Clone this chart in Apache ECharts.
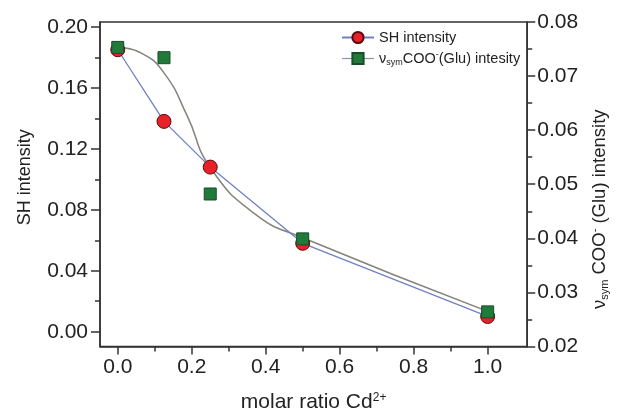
<!DOCTYPE html>
<html>
<head>
<meta charset="utf-8">
<script src="https://cdn.jsdelivr.net/npm/echarts@6/dist/echarts.min.js"></script>
<style>
html,body{margin:0;padding:0;background:#fff;}
#chart{width:618px;height:418px;}
</style>
</head>
<body>
<div id="chart"></div>
<script>
// ---- data ----
const ratio = [0, 0.125, 0.25, 0.5, 1.0];
const shIntensity = [0.185, 0.138, 0.108, 0.058, 0.010];
const cooIntensity = [0.0753, 0.0734, 0.0482, 0.0399, 0.0264];
// guide curve drawn through the COO- data (as in the reference)
const fitRatio = [0, 0.0625, 0.125, 0.1875, 0.25, 0.375, 0.5, 1.0];
const fitCoo = [0.0753, 0.0743, 0.0706, 0.0627, 0.0531, 0.0443, 0.0401, 0.0265];
// tick labels
const xTicks = [0, 0.2, 0.4, 0.6, 0.8, 1.0];
const xMinor = [0.1, 0.3, 0.5, 0.7, 0.9];
const yLeftTicks = [0, 0.04, 0.08, 0.12, 0.16, 0.20];
const yLeftMinor = [0.02, 0.06, 0.10, 0.14, 0.18];

const FONT = 'Liberation Sans, Arial, sans-serif';
const AX = '#333';

const chart = echarts.init(document.getElementById('chart'));
const shPts = ratio.map((x, i) => [x, shIntensity[i]]);
const cooPts = ratio.map((x, i) => [x, cooIntensity[i]]);
const fitPts = fitRatio.map((x, i) => [x, fitCoo[i]]);

const XMIN = -0.048, XMAX = 1.107;
const YLMIN = -0.0097, YLMAX = 0.2032;

chart.setOption({
  animation: false,
  backgroundColor: '#fff',
  grid: {left: 100, right: 86, top: 22, bottom: 66, show: true,
         borderColor: AX, borderWidth: 1.5, backgroundColor: 'transparent'},
  legend: {
    orient: 'vertical', left: 341, top: 30, padding: 0, itemWidth: 32, itemHeight: 14, itemGap: 5,
    textStyle: {fontFamily: FONT, fontSize: 14.5, color: '#222',
      rich: {
        t: {fontFamily: FONT, fontSize: 14.5, color: '#222'},
        sub: {fontFamily: FONT, fontSize: 9, color: '#222', verticalAlign: 'bottom', padding: [8, 0, 0, 0]},
        sup: {fontFamily: FONT, fontSize: 9, color: '#222', verticalAlign: 'top', padding: [0, 0, 8, 0]}
      }},
    data: [
      {name: 'SH intensity'},
      {name: 'COO', lineStyle: {color: '#8a93b0', width: 1.2, opacity: 1}}
    ],
    formatter: function (n) {
      if (n === 'COO') return '{t|\u03bd}{sub|sym}{t|COO}{sup|-}{t|(Glu) intesity}';
      return '{t|' + n + '}';
    }
  },
  xAxis: [{
    type: 'value', min: XMIN, max: XMAX, position: 'bottom',
    name: '{t|molar ratio Cd}{sup|2+}', nameLocation: 'middle', nameGap: 45,
    nameTextStyle: {rich: {
      t: {fontFamily: FONT, fontSize: 21, color: '#222'},
      sup: {fontFamily: FONT, fontSize: 12, color: '#222', verticalAlign: 'top', padding: [0, 0, 10, 0]}
    }},
    axisLine: {show: true, onZero: false, lineStyle: {color: AX, width: 1.5}},
    axisTick: {show: true, customValues: xTicks, length: 8, lineStyle: {color: AX, width: 1.5}},
    axisLabel: {show: true, customValues: xTicks, margin: 10, fontFamily: FONT, fontSize: 21, color: '#222',
      formatter: v => v.toFixed(1)},
    splitLine: {show: false}
  }, {
    type: 'value', min: XMIN, max: XMAX, position: 'bottom', offset: 0,
    axisLine: {show: false, onZero: false}, axisLabel: {show: false}, splitLine: {show: false},
    axisTick: {show: true, customValues: xMinor, length: 5, lineStyle: {color: AX, width: 1.5}}
  }],
  yAxis: [{
    type: 'value', min: YLMIN, max: YLMAX, position: 'left',
    name: 'SH intensity', nameLocation: 'middle', nameGap: 66, nameRotate: 90,
    nameTextStyle: {fontFamily: FONT, fontSize: 18, color: '#222', padding: [0, 0, 0, 14]},
    axisLine: {show: true, onZero: false, lineStyle: {color: AX, width: 1.5}},
    axisTick: {show: true, customValues: yLeftTicks, length: 9, lineStyle: {color: AX, width: 1.5}},
    axisLabel: {show: true, customValues: yLeftTicks, margin: 12, fontFamily: FONT, fontSize: 21, color: '#222',
      formatter: v => v.toFixed(2)},
    splitLine: {show: false}
  }, {
    type: 'value', min: 0.02, max: 0.08, interval: 0.01, position: 'right',
    name: '{t|\u03bd}{sub|sym}{t| COO}{sup|-}{t| (Glu) intensity}', nameLocation: 'middle', nameGap: 60, nameRotate: 90,
    nameTextStyle: {padding: [0, 50, 0, 0], rich: {
      t: {fontFamily: FONT, fontSize: 18.5, color: '#222'},
      sub: {fontFamily: FONT, fontSize: 11, color: '#222', verticalAlign: 'bottom', padding: [10, 0, 0, 0]},
      sup: {fontFamily: FONT, fontSize: 11, color: '#222', verticalAlign: 'top', padding: [0, 0, 10, 0]}
    }},
    axisLine: {show: true, onZero: false, lineStyle: {color: AX, width: 1.5}},
    axisTick: {show: true, length: 8, lineStyle: {color: AX, width: 1.5}},
    minorTick: {show: true, splitNumber: 2, length: 5, lineStyle: {color: AX, width: 1.5}},
    axisLabel: {show: true, margin: 10, fontFamily: FONT, fontSize: 21, color: '#222',
      formatter: v => v.toFixed(2)},
    splitLine: {show: false}
  }, {
    type: 'value', min: YLMIN, max: YLMAX, position: 'left', offset: 0,
    axisLine: {show: false, onZero: false}, axisLabel: {show: false}, splitLine: {show: false},
    axisTick: {show: true, customValues: yLeftMinor, length: 5, lineStyle: {color: AX, width: 1.5}}
  }],
  series: [{
    name: 'SH intensity', type: 'line', xAxisIndex: 0, yAxisIndex: 0, data: shPts, z: 4,
    lineStyle: {color: '#6f80c4', width: 1.3},
    symbol: 'circle', symbolSize: 14,
    itemStyle: {color: '#e8202a', borderColor: '#5a0c0c', borderWidth: 1}
  }, {
    name: 'COO-fit', type: 'line', xAxisIndex: 0, yAxisIndex: 1, data: fitPts, smooth: 0.5, z: 3,
    showSymbol: false, symbol: 'none',
    lineStyle: {color: '#84847c', width: 1.5}
  }, {
    name: 'COO', type: 'line', xAxisIndex: 0, yAxisIndex: 1, data: cooPts, z: 5,
    lineStyle: {opacity: 0, width: 0, color: '#8a93b0'},
    symbol: 'rect', symbolSize: 12,
    itemStyle: {color: '#217a3a', borderColor: '#174d28', borderWidth: 1}
  }]
});
</script>
</body>
</html>
